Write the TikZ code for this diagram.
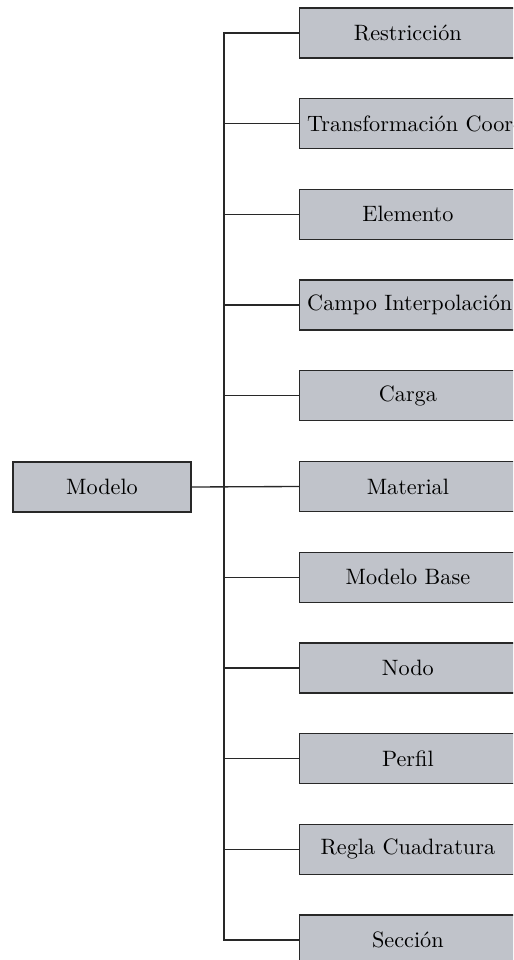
\documentclass[tikz,border=0pt]{standalone}
\usepackage{tikz}
\definecolor{boxgray}{RGB}{192,195,202}
\definecolor{edgegray}{RGB}{40,40,40}
\tikzset{
  classbox/.style={draw=edgegray, fill=boxgray, line width=0.6pt,
    minimum height=22.5pt, inner sep=3.4pt, font=\normalsize},
  rootbox/.style={classbox, minimum width=80pt},
  childbox/.style={classbox, anchor=west, minimum width=97.4pt},
  link/.style={draw=edgegray, line width=0.6pt}
}
\begin{document}
\begin{tikzpicture}[x=0.45pt,y=-0.45pt]
  \useasboundingbox (0,0) rectangle (513,960);
  \clip (0,0) rectangle (513,960);
  % root class
  \node[rootbox] (root) at (102,487) {Modelo};
  % child classes, stacked on a 90.7 px pitch
  \node[childbox] (c0)  at (299,33)    {Restricción};
  \node[childbox] (c1)  at (299,123.7) {Transformación Coordenadas};
  \node[childbox] (c2)  at (299,214.4) {Elemento};
  \node[childbox] (c3)  at (299,305.1) {Campo Interpolación};
  \node[childbox] (c4)  at (299,395.8) {Carga};
  \node[childbox] (c5)  at (299,486.5) {Material};
  \node[childbox] (c6)  at (299,577.2) {Modelo Base};
  \node[childbox] (c7)  at (299,667.9) {Nodo};
  \node[childbox] (c8)  at (299,758.6) {Perfil};
  \node[childbox] (c9)  at (299,849.3) {Regla Cuadratura};
  \node[childbox] (c10) at (299,940)   {Sección};
  % tree connectors through a shared vertical bus
  \draw[link] (root.east) -- (c5.west);
  \coordinate (bus) at (224,486.5);
  \foreach \i in {0,...,10}{
    \draw[link] (bus) |- (c\i.west);
  }
\end{tikzpicture}
\end{document}
